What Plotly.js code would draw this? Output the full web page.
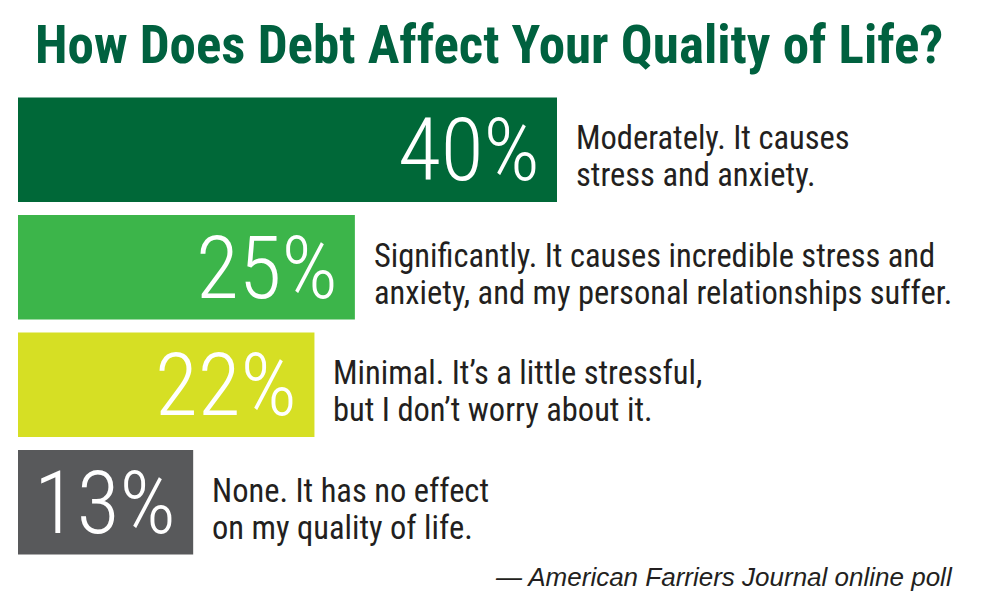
<!DOCTYPE html>
<html>
<head>
<meta charset="utf-8">
<script src="https://cdn.plot.ly/plotly-3.0.1.min.js"></script>
<style>
html,body{margin:0;padding:0;background:#fff;}
#chart{width:1000px;height:602px;}
</style>
</head>
<body>
<div id="chart"></div>
<script>
const categories = ["Moderately", "Significantly", "Minimal", "None"];
const values = [40, 25, 22, 13];
const valueLabels = ["40%", "25%", "22%", "13%"];
const answerLines = [
  ["Moderately. It causes", "stress and anxiety."],
  ["Significantly. It causes incredible stress and", "anxiety, and my personal relationships suffer."],
  ["Minimal. It\u2019s a little stressful,", "but I don\u2019t worry about it."],
  ["None. It has no effect", "on my quality of life."]
];
const barColors = ["#006838", "#3CB54A", "#D6DF24", "#58595B"];
const titleText = "How Does Debt Affect Your Quality of Life?";
const sourceText = "\u2014 American Farriers Journal online poll";

const cond = "Roboto Condensed, Roboto, sans-serif";
const pxPerUnit = 13.475;
const plotW = 982;
const plotTop = 91, plotBottom = 561, plotLeft = 18;

const annotations = [];
values.forEach((v, i) => {
  annotations.push({
    x: v, y: categories[i], xref: "x", yref: "y",
    text: valueLabels[i], showarrow: false,
    xanchor: "right", yanchor: "middle", xshift: -15, yshift: 0,
    font: {family: cond, size: 88, weight: 300, color: "#ffffff"}
  });
  answerLines[i].forEach((line, j) => {
    annotations.push({
      x: v, y: categories[i], xref: "x", yref: "y",
      text: line, showarrow: false,
      xanchor: "left", yanchor: "middle", xshift: 17, yshift: j === 0 ? 11.5 : -25.5,
      font: {family: cond, size: 32.5, color: "#231F20"}
    });
  });
});
annotations.push({
  x: (955 - plotLeft) / plotW, y: (plotBottom - 577) / (plotBottom - plotTop),
  xref: "paper", yref: "paper",
  text: "<i>" + sourceText + "</i>", showarrow: false,
  xanchor: "right", yanchor: "middle",
  font: {family: "Liberation Sans, Arial, sans-serif", size: 26, color: "#231F20"}
});

const trace = {
  type: "bar", orientation: "h",
  x: values, y: categories,
  marker: {color: barColors, line: {width: 0}},
  width: 0.89,
  hoverinfo: "none"
};

const layout = {
  width: 1000, height: 602,
  margin: {l: plotLeft, r: 1000 - plotLeft - plotW, t: plotTop, b: 602 - plotBottom},
  paper_bgcolor: "#ffffff", plot_bgcolor: "#ffffff",
  showlegend: false,
  title: {
    text: titleText,
    x: 35 / 1000, xanchor: "left", xref: "container",
    y: 1 - 44 / 602, yanchor: "middle", yref: "container",
    font: {family: cond, size: 53, weight: 700, color: "#00613F"}
  },
  xaxis: {range: [0, plotW / pxPerUnit], visible: false, fixedrange: true},
  yaxis: {autorange: "reversed", visible: false, fixedrange: true},
  annotations: annotations
};

Plotly.newPlot("chart", [trace], layout, {displayModeBar: false, staticPlot: true});
</script>
</body>
</html>
